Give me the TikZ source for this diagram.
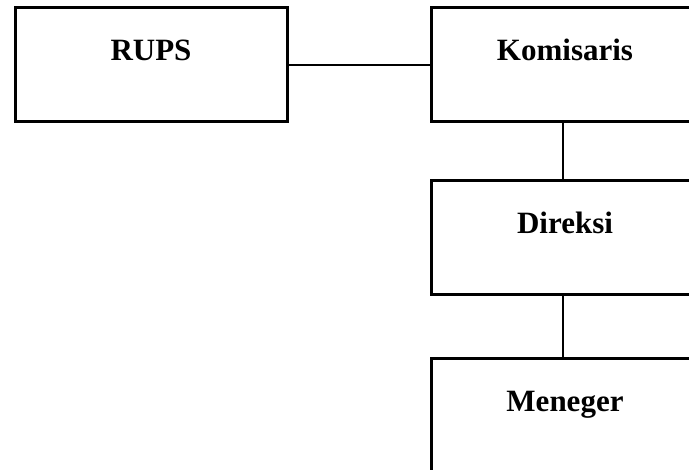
\documentclass[tikz,border=0pt]{standalone}
\usepackage{fontspec}
\setmainfont{Liberation Serif}
\usetikzlibrary{positioning}

\tikzset{
  kotak/.style={draw, line width=3pt, inner sep=0pt, minimum width=268pt,
    text height=53pt, text depth=61pt, font=\fontsize{31}{36}\selectfont\bfseries},
  garis/.style={line width=2pt}
}

\begin{document}
\begin{tikzpicture}[x=1pt, y=-1pt]
    \useasboundingbox (0,0) rectangle (689,470);
    \clip (0,0) rectangle (689,470);

    %Kotak kiri
    \node[kotak, minimum width=272pt] (rups) at (151,65) {RUPS};

    %Kotak kanan
    \node[kotak] (komisaris) at (565,65) {Komisaris};
    \node[kotak] (direksi) at (565,237.5) {Direksi};
    \node[kotak] (meneger) at (565,416) {Meneger};

    %Garis penghubung
    \draw[garis] (rups.east) -- (komisaris.west);
    \draw[garis] ([xshift=-2pt]komisaris.south) -- ([xshift=-2pt]direksi.north);
    \draw[garis] ([xshift=-2pt]direksi.south) -- ([xshift=-2pt]meneger.north);
\end{tikzpicture}
\end{document}
